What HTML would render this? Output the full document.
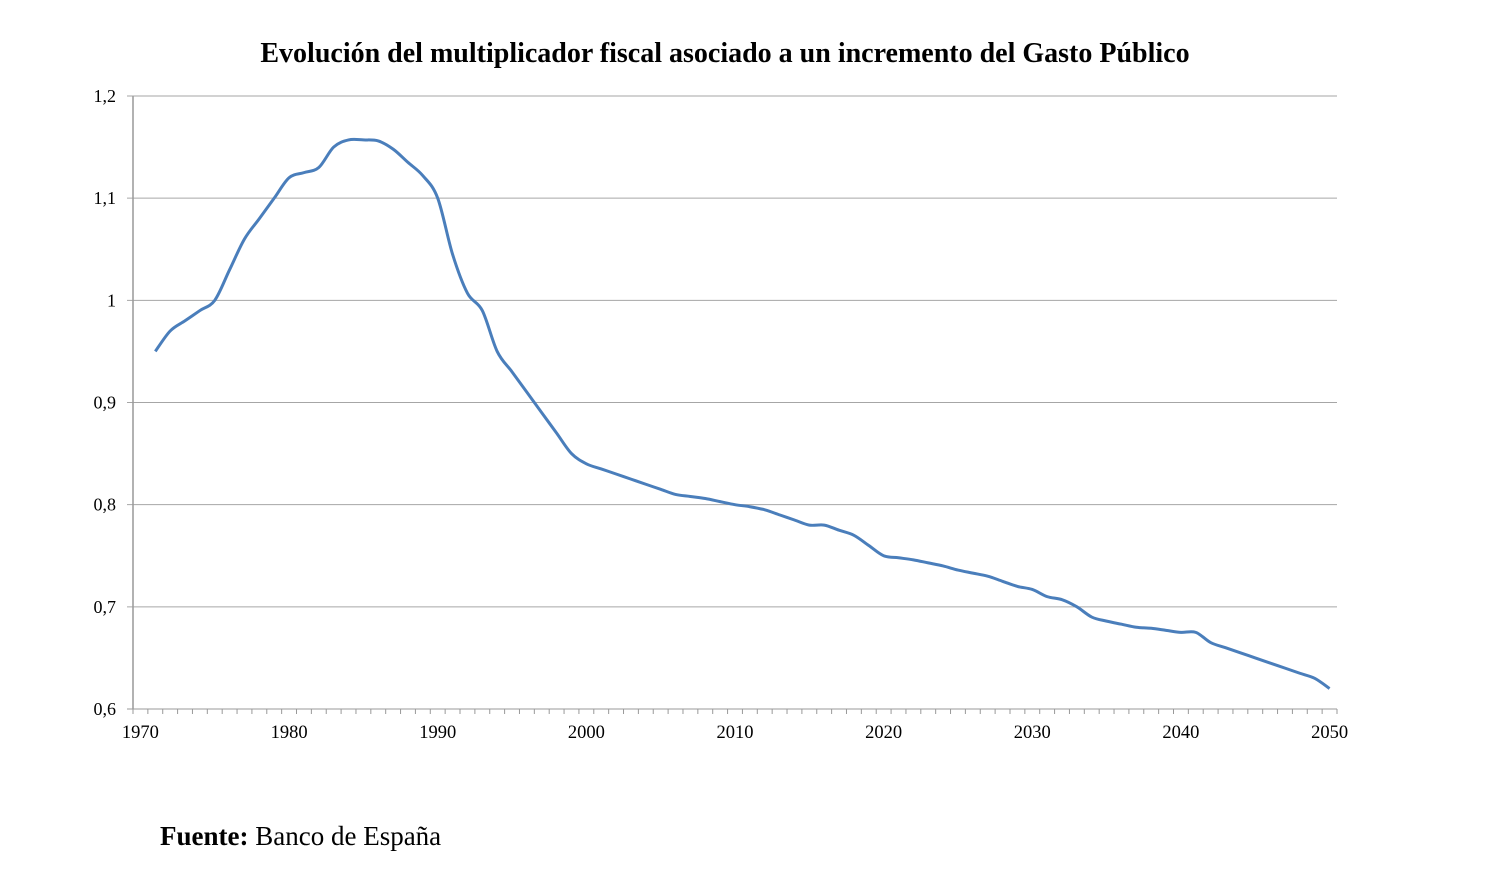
<!DOCTYPE html>
<html><head><meta charset="utf-8"><style>
body{margin:0;background:#fff;width:1493px;height:892px;overflow:hidden;font-family:"Liberation Serif",serif;}
</style></head><body>
<svg width="1493" height="892" id="chart" style="position:absolute;left:0;top:0">
<text x="725" y="62" text-anchor="middle" font-size="28" font-weight="bold">Evolución del multiplicador fiscal asociado a un incremento del Gasto Público</text>
<g id="grid"></g><g id="axes"></g>
<path id="line" fill="none" stroke="#4a7ebb" stroke-width="3"/>
<text x="160" y="845" font-size="27"><tspan font-weight="bold">Fuente:</tspan> Banco de España</text>
</svg>
<script>
const years=[];for(let y=1971;y<=2050;y++)years.push(y);
const values=[0.95,0.97,0.98,0.99,1.0,1.03,1.06,1.08,1.10,1.12,1.125,1.13,1.15,1.157,1.157,1.156,1.148,1.135,1.122,1.10,1.045,1.007,0.99,0.95,0.93,0.91,0.89,0.87,0.85,0.84,0.835,0.83,0.825,0.82,0.815,0.81,0.808,0.806,0.803,0.80,0.798,0.795,0.79,0.785,0.78,0.78,0.775,0.77,0.76,0.75,0.748,0.746,0.743,0.74,0.736,0.733,0.73,0.725,0.72,0.717,0.71,0.707,0.70,0.69,0.686,0.683,0.68,0.679,0.677,0.675,0.675,0.665,0.66,0.655,0.65,0.645,0.64,0.635,0.63,0.62];
const yTicks=[0.6,0.7,0.8,0.9,1.0,1.1,1.2];
const yTickLabels=["0,6","0,7","0,8","0,9","1","1,1","1,2"];
const xLabels=[1970,1980,1990,2000,2010,2020,2030,2040,2050];
const L=133,R=1337,T=96,B=709,first=1970,nCat=81,cw=(R-L)/nCat;
const xs=yr=>L+(yr-first+0.5)*cw;
const ys=v=>B-(v-0.6)/0.6*(B-T);
const NS="http://www.w3.org/2000/svg";
const grid=document.getElementById('grid'),axes=document.getElementById('axes');
function mk(tag,at,parent){const e=document.createElementNS(NS,tag);for(const k in at)e.setAttribute(k,at[k]);parent.appendChild(e);return e;}
yTicks.forEach((v,i)=>{
 const g=mk('line',{x1:L-6,x2:R,y1:ys(v),y2:ys(v),stroke:i==0?'#999':'#a6a6a6','stroke-width':1},grid);
 
 
 const t=mk('text',{x:L-17,y:ys(v)+6,'text-anchor':'end','font-size':18},axes);
 
 
 t.textContent=yTickLabels[i];
});
const ya=mk('line',{x1:L,x2:L,y1:T,y2:B,stroke:'#999','stroke-width':1.5},axes);


for(let i=0;i<=nCat;i++){
 const x=L+i*cw;
 const tk=mk('line',{x1:x,x2:x,y1:B,y2:B+5,stroke:'#999','stroke-width':1},axes);
 
 
}
xLabels.forEach(yr=>{
 const t=mk('text',{x:xs(yr),y:B+29,'text-anchor':'middle','font-size':18.5},axes);
 
 
 t.textContent=yr;
});
const P=years.map((yr,i)=>[xs(yr),ys(values[i])]);
let d='M'+P[0][0]+','+P[0][1];
for(let i=0;i<P.length-1;i++){
 const p0=P[Math.max(0,i-1)],p1=P[i],p2=P[i+1],p3=P[Math.min(P.length-1,i+2)],k=6;
 d+=` C${p1[0]+(p2[0]-p0[0])/k},${p1[1]+(p2[1]-p0[1])/k} ${p2[0]-(p3[0]-p1[0])/k},${p2[1]-(p3[1]-p1[1])/k} ${p2[0]},${p2[1]}`;
}
document.getElementById('line').setAttribute('d',d);
</script>
</body></html>
